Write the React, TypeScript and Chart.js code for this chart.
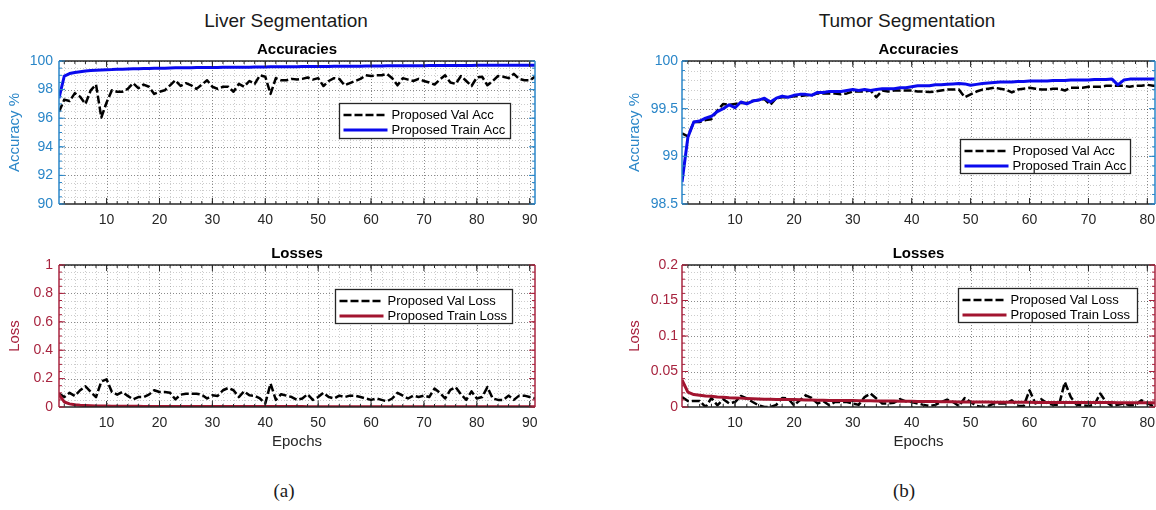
import React, { useEffect, useRef } from 'react';
import { Chart, registerables } from 'chart.js';

Chart.register(...registerables);

const FONT = '"Liberation Sans", Arial, Helvetica, sans-serif';
Chart.defaults.font.family = FONT;

// ---------------- data ----------------
const liverEpochs = Array.from({ length: 91 }, (_, i) => i + 1);
const tumorEpochs = Array.from({ length: 82 }, (_, i) => i + 1);

const liverValAcc = [
  96.45, 97.3, 97.2, 97.75, 97.5, 97.0, 97.95, 98.35, 96.05, 97.1,
  97.95, 97.85, 97.85, 98.05, 98.45, 98.1, 98.35, 98.2, 97.7, 97.85,
  97.95, 98.3, 98.65, 98.25, 98.45, 98.3, 98.05, 98.35, 98.65, 98.2,
  98.05, 98.2, 98.2, 97.85, 98.4, 98.2, 98.6, 98.4, 99.0, 98.9,
  97.7, 98.8, 98.65, 98.65, 98.75, 98.7, 98.75, 98.85, 98.7, 98.8,
  98.25, 98.6, 98.8, 98.75, 98.3, 98.45, 98.6, 98.75, 99.0, 98.95,
  99.0, 99.0, 99.1, 98.8, 98.3, 98.8, 98.7, 98.6, 98.75, 98.6,
  98.5, 98.35, 98.7, 99.0, 98.5, 98.4, 98.95, 98.6, 98.25, 98.85,
  98.9, 98.3, 98.6, 98.95, 98.9, 98.8, 99.1, 98.75, 98.65, 98.65, 98.9,
];
const liverTrainAcc = [
  97.4, 98.95, 99.12, 99.2, 99.25, 99.3, 99.33, 99.35, 99.37, 99.39,
  99.4, 99.42, 99.43, 99.44, 99.45, 99.46, 99.47, 99.48, 99.49, 99.5,
  99.5, 99.51, 99.52, 99.52, 99.53, 99.53, 99.54, 99.54, 99.55, 99.55,
  99.55, 99.56, 99.56, 99.56, 99.57, 99.57, 99.57, 99.58, 99.58, 99.58,
  99.59, 99.59, 99.59, 99.6, 99.6, 99.6, 99.61, 99.61, 99.61, 99.62,
  99.62, 99.62, 99.63, 99.63, 99.63, 99.64, 99.64, 99.64, 99.65, 99.65,
  99.65, 99.65, 99.66, 99.66, 99.66, 99.66, 99.67, 99.67, 99.67, 99.67,
  99.68, 99.68, 99.68, 99.68, 99.69, 99.69, 99.69, 99.69, 99.69, 99.7,
  99.7, 99.7, 99.7, 99.7, 99.7, 99.71, 99.71, 99.71, 99.71, 99.71, 99.71,
];
const liverValLoss = [
  0.094, 0.07, 0.1, 0.078, 0.118, 0.146, 0.106, 0.07, 0.18, 0.195,
  0.106, 0.087, 0.106, 0.078, 0.054, 0.07, 0.07, 0.087, 0.118, 0.106,
  0.106, 0.1, 0.054, 0.087, 0.094, 0.094, 0.094, 0.087, 0.06, 0.082,
  0.078, 0.118, 0.134, 0.118, 0.07, 0.11, 0.082, 0.078, 0.06, 0.024,
  0.165, 0.05, 0.09, 0.08, 0.07, 0.05, 0.06, 0.09, 0.05, 0.07,
  0.1, 0.07, 0.06, 0.08, 0.07, 0.08, 0.08, 0.07, 0.06, 0.05,
  0.06, 0.05, 0.04, 0.06, 0.1, 0.08, 0.06, 0.08, 0.07, 0.08,
  0.07, 0.13, 0.1, 0.06, 0.12, 0.14, 0.09, 0.05, 0.11, 0.06,
  0.07, 0.14, 0.06, 0.05, 0.05, 0.08, 0.05, 0.08, 0.08, 0.07, 0.06,
];
const liverTrainLoss = [
  0.09, 0.035, 0.022, 0.016, 0.012, 0.01, 0.0085, 0.0075, 0.0068, 0.0062,
  0.0058, 0.0055, 0.0052, 0.005, 0.0048, 0.0046, 0.0044, 0.0043, 0.0042, 0.0041,
  0.004, 0.0039, 0.0038, 0.0037, 0.0036, 0.0035, 0.0035, 0.0034, 0.0034, 0.0033,
  0.0033, 0.0032, 0.0032, 0.0031, 0.0031, 0.003, 0.003, 0.003, 0.0029, 0.0029,
  0.0029, 0.0028, 0.0028, 0.0028, 0.0027, 0.0027, 0.0027, 0.0026, 0.0026, 0.0026,
  0.0026, 0.0025, 0.0025, 0.0025, 0.0025, 0.0024, 0.0024, 0.0024, 0.0024, 0.0023,
  0.0023, 0.0023, 0.0023, 0.0023, 0.0022, 0.0022, 0.0022, 0.0022, 0.0022, 0.0021,
  0.0021, 0.0021, 0.0021, 0.0021, 0.0021, 0.002, 0.002, 0.002, 0.002, 0.002,
  0.002, 0.002, 0.0019, 0.0019, 0.0019, 0.0019, 0.0019, 0.0019, 0.0019, 0.0018, 0.0018,
];

const tumorValAcc = [
  99.24, 99.21, 99.36, 99.36, 99.38, 99.39, 99.48, 99.55, 99.54, 99.55,
  99.56, 99.56, 99.58, 99.59, 99.6, 99.54, 99.61, 99.62, 99.62, 99.63,
  99.63, 99.64, 99.64, 99.66, 99.66, 99.66, 99.66, 99.65, 99.66, 99.68,
  99.68, 99.68, 99.69, 99.62, 99.69, 99.68, 99.69, 99.69, 99.69, 99.69,
  99.68, 99.68, 99.675, 99.68, 99.69, 99.7, 99.7, 99.7, 99.62, 99.65,
  99.68, 99.7, 99.71, 99.72, 99.71, 99.7, 99.67, 99.7, 99.71, 99.72,
  99.71, 99.7, 99.7, 99.71, 99.71, 99.69, 99.72, 99.72, 99.72, 99.73,
  99.73, 99.73, 99.74, 99.74, 99.74, 99.74, 99.73, 99.74, 99.74, 99.75,
  99.74, 99.74,
];
const tumorTrainAcc = [
  98.73, 99.2, 99.36, 99.37, 99.4, 99.42, 99.47, 99.5, 99.54, 99.51,
  99.57, 99.55, 99.58, 99.59, 99.61, 99.57, 99.61, 99.63, 99.62, 99.64,
  99.65, 99.65, 99.64, 99.67, 99.67, 99.68, 99.68, 99.68, 99.69, 99.7,
  99.69, 99.7, 99.69, 99.7, 99.71, 99.71, 99.71, 99.72, 99.72, 99.73,
  99.74, 99.74, 99.74, 99.75, 99.75, 99.755, 99.76, 99.765, 99.76, 99.745,
  99.755, 99.765, 99.77, 99.775, 99.78, 99.78, 99.78, 99.785, 99.785, 99.79,
  99.79, 99.79, 99.79, 99.795, 99.795, 99.795, 99.8, 99.8, 99.8, 99.8,
  99.805, 99.805, 99.805, 99.81, 99.75, 99.8, 99.81, 99.81, 99.81, 99.81,
  99.81, 99.81,
];
const tumorValLoss = [
  0.014, 0.0085, 0.0085, 0.0085, 0.0, 0.0127, 0.0024, 0.011, 0.005, 0.007,
  0.0155, 0.012, 0.007, 0.0024, 0.0, 0.0, 0.003, 0.0127, 0.012, 0.0024,
  0.0094, 0.0165, 0.0127, 0.005, 0.008, 0.0024, 0.007, 0.007, 0.007, 0.005,
  0.003, 0.014, 0.019, 0.012, 0.005, 0.005, 0.006, 0.011, 0.008, 0.007,
  0.005, 0.003, 0.0014, 0.003, 0.007, 0.0104, 0.007, 0.0014, 0.0127, 0.007,
  0.0014, 0.0, 0.0014, 0.005, 0.005, 0.005, 0.0094, 0.0014, 0.0014, 0.0235,
  0.005, 0.011, 0.005, 0.003, 0.003, 0.035, 0.014, 0.003, 0.0024, 0.0014,
  0.003, 0.019, 0.007, 0.0014, 0.003, 0.005, 0.0024, 0.003, 0.0094, 0.005,
  0.0014, 0.003,
];
const tumorTrainLoss = [
  0.038, 0.021, 0.0175, 0.0165, 0.0155, 0.015, 0.014, 0.0137, 0.013, 0.0127,
  0.0125, 0.0118, 0.0115, 0.0112, 0.011, 0.0108, 0.0107, 0.0106, 0.0105, 0.0104,
  0.0102, 0.01, 0.0098, 0.0096, 0.0094, 0.0093, 0.0092, 0.0091, 0.009, 0.009,
  0.0089, 0.0088, 0.0087, 0.0086, 0.0085, 0.0084, 0.0083, 0.0082, 0.0081, 0.008,
  0.0079, 0.0078, 0.0077, 0.0076, 0.0075, 0.0074, 0.0073, 0.0072, 0.0071, 0.007,
  0.007, 0.0069, 0.0069, 0.0068, 0.0068, 0.0067, 0.0067, 0.0066, 0.0066, 0.0066,
  0.0065, 0.0065, 0.0065, 0.0064, 0.0064, 0.0064, 0.0063, 0.0063, 0.0063, 0.0063,
  0.0062, 0.0062, 0.0062, 0.0062, 0.0061, 0.0061, 0.0061, 0.0061, 0.006, 0.006,
  0.006, 0.006,
];

const liverXTicks = [10, 20, 30, 40, 50, 60, 70, 80, 90];
const tumorXTicks = [10, 20, 30, 40, 50, 60, 70, 80];
const liverAccTicks = [90, 92, 94, 96, 98, 100];
const liverLossTicks = [0, 0.2, 0.4, 0.6, 0.8, 1];
const tumorAccTicks = [98.5, 99, 99.5, 100];
const tumorLossTicks = [0, 0.05, 0.1, 0.15, 0.2];

// ---------------- styles ----------------
const ACC_COLOR = '#2a86c8';
const LOSS_COLOR = '#a8243f';
const TRAIN_ACC_COLOR = '#0a0aee';
const TRAIN_LOSS_COLOR = '#a2142f';
const DARK = '#262626';

function stepValues(min: number, max: number, step: number) {
  const out: number[] = [];
  const n0 = Math.ceil(min / step - 1e-6);
  const n1 = Math.floor(max / step + 1e-6);
  for (let n = n0; n <= n1; n++) out.push(n * step);
  return out;
}

const matlabAxes = {
  id: 'matlabAxes',
  beforeDatasetsDraw(chart: any, _a: any, o: any) {
    const { ctx, chartArea: ca, scales } = chart;
    const x = scales.x;
    const y = scales.y;
    ctx.save();
    ctx.beginPath();
    ctx.rect(ca.left, ca.top, ca.right - ca.left, ca.bottom - ca.top);
    ctx.clip();
    ctx.lineWidth = 1;
    ctx.setLineDash([1, 2]);
    const vline = (v: number) => {
      const p = Math.round(x.getPixelForValue(v)) + 0.5;
      ctx.beginPath(); ctx.moveTo(p, ca.top); ctx.lineTo(p, ca.bottom); ctx.stroke();
    };
    const hline = (v: number) => {
      const p = Math.round(y.getPixelForValue(v)) + 0.5;
      ctx.beginPath(); ctx.moveTo(ca.left, p); ctx.lineTo(ca.right, p); ctx.stroke();
    };
    ctx.strokeStyle = o.minorColor;
    stepValues(x.min, x.max, o.xMinor).forEach(vline);
    stepValues(y.min, y.max, o.yMinor).forEach(hline);
    ctx.strokeStyle = o.majorColor;
    o.xTicks.forEach(vline);
    o.yTicks.forEach(hline);
    ctx.restore();
  },
  afterDatasetsDraw(chart: any, _a: any, o: any) {
    const { ctx, chartArea: ca, scales } = chart;
    const x = scales.x;
    const y = scales.y;
    const L = ca.left, R = ca.right, T = ca.top, B = ca.bottom;
    ctx.save();
    ctx.setLineDash([]);
    const seg = (x1: number, y1: number, x2: number, y2: number) => {
      ctx.beginPath(); ctx.moveTo(x1, y1); ctx.lineTo(x2, y2); ctx.stroke();
    };
    ctx.strokeStyle = DARK;
    ctx.lineWidth = 1;
    const xt = (v: number, len: number) => {
      const p = x.getPixelForValue(v);
      if (p < L || p > R) return;
      seg(p, B, p, B - len); seg(p, T, p, T + len);
    };
    stepValues(x.min, x.max, o.xMinor).forEach((v) => xt(v, 3));
    o.xTicks.forEach((v: number) => xt(v, 6));
    ctx.lineWidth = 1.5;
    seg(L, T, R, T);
    seg(L, B, R, B);
    ctx.strokeStyle = o.axisColor;
    ctx.lineWidth = 1;
    const yt = (v: number, len: number) => {
      const p = y.getPixelForValue(v);
      seg(L, p, L + len, p); seg(R, p, R - len, p);
    };
    stepValues(y.min, y.max, o.yMinor).forEach((v) => yt(v, 3));
    o.yTicks.forEach((v: number) => yt(v, 6));
    ctx.lineWidth = 1.5;
    seg(L, T, L, B);
    seg(R, T, R, B);
    ctx.restore();
  },
};

const boxLegend = {
  id: 'boxLegend',
  afterDraw(chart: any, _a: any, o: any) {
    const { ctx, chartArea: ca } = chart;
    const bx = Math.round(ca.right - o.right - o.width) + 0.5;
    const by = Math.round(ca.top + o.top) + 0.5;
    ctx.save();
    ctx.fillStyle = '#ffffff';
    ctx.fillRect(bx, by, o.width, o.height);
    ctx.strokeStyle = DARK;
    ctx.lineWidth = 1.3;
    ctx.setLineDash([]);
    ctx.strokeRect(bx, by, o.width, o.height);
    chart.data.datasets.forEach((ds: any, i: number) => {
      const ry = by + o.firstRow + i * o.rowGap;
      ctx.save();
      ctx.strokeStyle = ds.borderColor;
      ctx.lineWidth = ds.borderWidth;
      ctx.setLineDash(ds.borderDash || []);
      ctx.beginPath();
      ctx.moveTo(bx + 4, ry);
      ctx.lineTo(bx + 48, ry);
      ctx.stroke();
      ctx.restore();
      ctx.fillStyle = '#000';
      ctx.font = `13px ${FONT}`;
      ctx.textBaseline = 'middle';
      ctx.textAlign = 'left';
      ctx.fillText(ds.label, bx + 52, ry);
    });
    ctx.restore();
  },
};

type Spec = {
  left: number; top: number; width: number; height: number;
  title: string; yTitle: string; xTitle?: string;
  labels: number[]; val: number[]; train: number[];
  valLabel: string; trainLabel: string; trainColor: string;
  axisColor: string;
  xMax: number; xTicks: number[]; xMinor: number;
  yMin: number; yMax: number; yTicks: number[]; yMinor: number;
  yWidth: number; yTickPad: number; xHeight: number;
  legend: { right: number; top: number; width: number; height: number };
};

function buildConfig(s: Spec): any {
  return {
    type: 'line',
    data: {
      labels: s.labels,
      datasets: [
        {
          label: s.valLabel, data: s.val, borderColor: '#000000', borderWidth: 2.5,
          borderDash: [8, 3], pointRadius: 0, tension: 0, order: 2, borderJoinStyle: 'round',
        },
        {
          label: s.trainLabel, data: s.train, borderColor: s.trainColor, borderWidth: 3,
          pointRadius: 0, tension: 0, order: 1, borderJoinStyle: 'round',
        },
      ],
    },
    options: {
      responsive: false,
      animation: false,
      events: [],
      layout: { padding: { left: 0, right: 15, top: 0, bottom: 0 } },
      scales: {
        x: {
          type: 'linear', min: 1, max: s.xMax,
          grid: { display: false, drawTicks: false }, border: { display: false },
          afterBuildTicks: (sc: any) => { sc.ticks = s.xTicks.map((v) => ({ value: v })); },
          afterFit: (sc: any) => { sc.height = s.xHeight; },
          ticks: {
            color: DARK, font: { size: 14 }, padding: 8, maxRotation: 0, autoSkip: false,
            callback: (v: any) => String(v),
          },
          title: s.xTitle
            ? { display: true, text: s.xTitle, color: DARK, font: { size: 15 }, padding: { top: 0, bottom: 4 } }
            : { display: false },
        },
        y: {
          type: 'linear', min: s.yMin, max: s.yMax,
          grid: { display: false, drawTicks: false }, border: { display: false },
          afterBuildTicks: (sc: any) => { sc.ticks = s.yTicks.map((v) => ({ value: v })); },
          afterFit: (sc: any) => { sc.width = s.yWidth; },
          ticks: { color: s.axisColor, font: { size: 14 }, padding: s.yTickPad, callback: (v: any) => String(v) },
          title: { display: true, text: s.yTitle, color: s.axisColor, font: { size: 15 }, padding: { top: 6, bottom: 0 } },
        },
      },
      plugins: {
        legend: { display: false },
        tooltip: { enabled: false },
        title: {
          display: true, text: s.title, color: '#000', fullSize: false,
          font: { size: 15, weight: 'bold' }, padding: { top: 11, bottom: 2 },
        },
        matlabAxes: {
          xMinor: 2, yMinor: s.yMinor, xTicks: s.xTicks, yTicks: s.yTicks, axisColor: s.axisColor,
          minorColor: 'rgba(0,0,0,0.2)', majorColor: 'rgba(0,0,0,0.32)',
        },
        boxLegend: { ...s.legend, firstRow: 11.5, rowGap: 15 },
      },
    },
    plugins: [matlabAxes, boxLegend],
  };
}

const specs: Spec[] = [
  {
    left: 0, top: 30, width: 550, height: 200,
    title: 'Accuracies', yTitle: 'Accuracy %', labels: liverEpochs,
    val: liverValAcc, train: liverTrainAcc, valLabel: 'Proposed Val Acc', trainLabel: 'Proposed Train Acc',
    trainColor: TRAIN_ACC_COLOR, axisColor: ACC_COLOR,
    xMax: 91, xTicks: liverXTicks, xMinor: 2, yMin: 90, yMax: 100, yTicks: liverAccTicks, yMinor: 0.5,
    yWidth: 59, yTickPad: 6, xHeight: 26,
    legend: { right: 25, top: 42, width: 171, height: 35 },
  },
  {
    left: 0, top: 234, width: 550, height: 221,
    title: 'Losses', yTitle: 'Loss', xTitle: 'Epochs', labels: liverEpochs,
    val: liverValLoss, train: liverTrainLoss, valLabel: 'Proposed Val Loss', trainLabel: 'Proposed Train Loss',
    trainColor: TRAIN_LOSS_COLOR, axisColor: LOSS_COLOR,
    xMax: 91, xTicks: liverXTicks, xMinor: 2, yMin: 0, yMax: 1, yTicks: liverLossTicks, yMinor: 0.05,
    yWidth: 59, yTickPad: 6, xHeight: 48,
    legend: { right: 23, top: 24, width: 177, height: 34 },
  },
  {
    left: 620, top: 30, width: 550, height: 200,
    title: 'Accuracies', yTitle: 'Accuracy %', labels: tumorEpochs,
    val: tumorValAcc, train: tumorTrainAcc, valLabel: 'Proposed Val Acc', trainLabel: 'Proposed Train Acc',
    trainColor: TRAIN_ACC_COLOR, axisColor: ACC_COLOR,
    xMax: 81.3, xTicks: tumorXTicks, xMinor: 2, yMin: 98.5, yMax: 100, yTicks: tumorAccTicks, yMinor: 0.1,
    yWidth: 62, yTickPad: 4, xHeight: 26,
    legend: { right: 25, top: 78, width: 170, height: 34 },
  },
  {
    left: 620, top: 234, width: 550, height: 221,
    title: 'Losses', yTitle: 'Loss', xTitle: 'Epochs', labels: tumorEpochs,
    val: tumorValLoss, train: tumorTrainLoss, valLabel: 'Proposed Val Loss', trainLabel: 'Proposed Train Loss',
    trainColor: TRAIN_LOSS_COLOR, axisColor: LOSS_COLOR,
    xMax: 81.3, xTicks: tumorXTicks, xMinor: 2, yMin: 0, yMax: 0.2, yTicks: tumorLossTicks, yMinor: 0.01,
    yWidth: 62, yTickPad: 4, xHeight: 48,
    legend: { right: 18, top: 23, width: 179, height: 34 },
  },
];

function Panel({ spec }: { spec: Spec }) {
  const ref = useRef<HTMLCanvasElement>(null);
  useEffect(() => {
    const chart = new Chart(ref.current as HTMLCanvasElement, buildConfig(spec));
    return () => chart.destroy();
  }, [spec]);
  return (
    <canvas
      ref={ref}
      width={spec.width}
      height={spec.height}
      style={{ position: 'absolute', left: spec.left, top: spec.top, width: spec.width, height: spec.height }}
    />
  );
}

function Label({ x, y, text, font, size }: { x: number; y: number; text: string; font: string; size: number }) {
  return (
    <div
      style={{
        position: 'absolute', left: x, top: y, transform: 'translate(-50%, -50%)',
        fontFamily: font, fontSize: size, color: '#1a1a1a', whiteSpace: 'nowrap', lineHeight: 1,
      }}
    >
      {text}
    </div>
  );
}

export default function App() {
  return (
    <div
      style={{
        position: 'fixed', left: 0, top: 0, width: 1156, height: 510, overflow: 'hidden', background: '#ffffff',
      }}
    >
      <Label x={286} y={20} text="Liver Segmentation" font={FONT} size={19} />
      <Label x={907} y={20} text="Tumor Segmentation" font={FONT} size={19} />
      {specs.map((s, i) => (
        <Panel key={i} spec={s} />
      ))}
      <Label x={284} y={490} text="(a)" font={'"Liberation Serif", "DejaVu Serif", serif'} size={19} />
      <Label x={904} y={490} text="(b)" font={'"Liberation Serif", "DejaVu Serif", serif'} size={19} />
    </div>
  );
}
